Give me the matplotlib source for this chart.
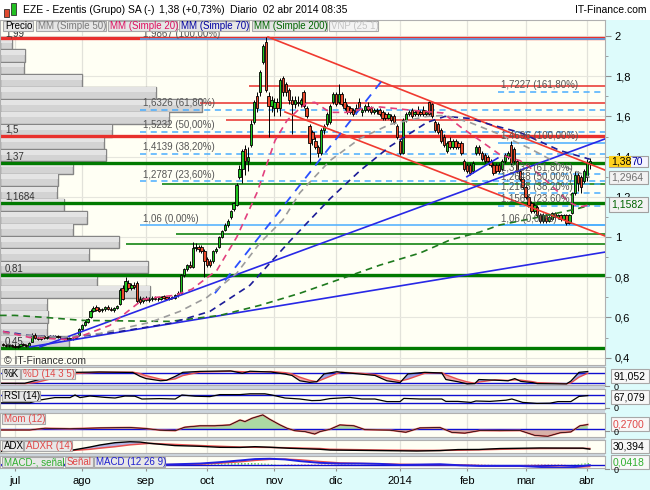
import numpy as np
import pandas as pd
import matplotlib
matplotlib.use("Agg")
import matplotlib.pyplot as plt
from matplotlib.patches import Rectangle
from matplotlib.ticker import FuncFormatter, MultipleLocator

plt.rcParams["font.family"] = ["Liberation Sans", "DejaVu Sans"]

W, H = 650, 490

# --- Data: daily candles (one per trading day, starting 2013-06-25) ---
first_day = "2013-06-25"
month_labels = ["jul", "ago", "sep", "oct", "nov", "dic", "2014", "feb", "mar", "abr"]

opens = [
    .470, .465, .460, .462, .458, .455, .460, .466, .462, .458,
    .480, .512, .500, .495, .505, .500, .504, .508, .503, .506,
    .502, .498, .494, .492, .496, .500, .510, .540, .560, .578,
    .600, .630, .650, .640, .636, .640, .650, .644, .636, .646,
    .665, .745, .730, .770, .745, .762, .770, .690, .680, .695,
    .688, .692, .698, .690, .694, .705, .700, .698, .700, .695,
    .710, .720, .810, .840, .860, .850, .945, .950, .950, .930,
    .890, .880, .880, .930, .950, 1.000, 1.035, 1.060, 1.100, 1.140,
    1.160, 1.300, 1.340, 1.440, 1.380, 1.460, 1.570, 1.700, 1.720, 1.870,
    1.970, 1.700, 1.650, 1.640, 1.670, 1.640, 1.790, 1.760, 1.730, 1.680,
    1.660, 1.670, 1.660, 1.720, 1.640, 1.550, 1.520, 1.480, 1.450, 1.420,
    1.530, 1.560, 1.570, 1.670, 1.710, 1.670, 1.710, 1.670, 1.650, 1.640,
    1.630, 1.640, 1.670, 1.620, 1.630, 1.650, 1.640, 1.620, 1.625, 1.630,
    1.620, 1.610, 1.590, 1.600, 1.600, 1.550, 1.480, 1.420, 1.580, 1.610,
    1.630, 1.610, 1.630, 1.620, 1.630, 1.610, 1.670, 1.660, 1.570, 1.560,
    1.530, 1.500, 1.430, 1.480, 1.450, 1.480, 1.470, 1.470, 1.380, 1.360,
    1.360, 1.330, 1.420, 1.450, 1.420, 1.410, 1.400, 1.380, 1.360, 1.360,
    1.360, 1.340, 1.380, 1.400, 1.460, 1.440, 1.380, 1.330, 1.290, 1.250,
    1.200, 1.170, 1.130, 1.150, 1.110, 1.080, 1.110, 1.080, 1.090, 1.120,
    1.100, 1.110, 1.090, 1.110, 1.070, 1.120, 1.220, 1.310, 1.300, 1.280,
    1.300, 1.370,
]
highs = [
    .475, .470, .468, .470, .466, .462, .470, .472, .468, .480,
    .520, .520, .508, .510, .512, .508, .512, .514, .510, .512,
    .508, .505, .502, .500, .504, .512, .545, .565, .585, .595,
    .640, .655, .660, .652, .648, .655, .660, .652, .650, .662,
    .745, .760, .800, .785, .770, .775, .780, .705, .700, .705,
    .700, .705, .708, .702, .706, .712, .708, .705, .708, .715,
    .730, .815, .845, .865, .880, .975, .970, .960, .958, .940,
    .900, .890, .935, .950, 1.005, 1.035, 1.070, 1.090, 1.135, 1.175,
    1.270, 1.360, 1.440, 1.460, 1.450, 1.580, 1.680, 1.720, 1.830, 1.960,
    1.995, 1.720, 1.700, 1.690, 1.690, 1.790, 1.800, 1.770, 1.740, 1.700,
    1.700, 1.700, 1.690, 1.730, 1.650, 1.560, 1.530, 1.500, 1.460, 1.540,
    1.560, 1.620, 1.660, 1.720, 1.720, 1.760, 1.720, 1.690, 1.660, 1.650,
    1.640, 1.660, 1.690, 1.640, 1.660, 1.670, 1.650, 1.640, 1.640, 1.640,
    1.630, 1.620, 1.620, 1.610, 1.610, 1.560, 1.490, 1.590, 1.620, 1.630,
    1.640, 1.630, 1.650, 1.630, 1.650, 1.630, 1.675, 1.665, 1.580, 1.570,
    1.540, 1.510, 1.480, 1.500, 1.490, 1.490, 1.480, 1.480, 1.390, 1.370,
    1.370, 1.380, 1.460, 1.460, 1.430, 1.420, 1.410, 1.390, 1.370, 1.370,
    1.370, 1.390, 1.420, 1.430, 1.480, 1.450, 1.390, 1.340, 1.300, 1.260,
    1.210, 1.180, 1.170, 1.160, 1.120, 1.120, 1.120, 1.110, 1.125, 1.125,
    1.115, 1.115, 1.115, 1.115, 1.115, 1.225, 1.330, 1.330, 1.310, 1.340,
    1.390, 1.395,
]
lows = [
    .460, .455, .452, .455, .450, .448, .455, .458, .455, .455,
    .478, .495, .490, .490, .495, .494, .498, .500, .496, .498,
    .494, .490, .488, .486, .490, .496, .505, .535, .555, .570,
    .595, .625, .632, .628, .625, .632, .638, .630, .628, .640,
    .660, .685, .725, .735, .735, .740, .670, .668, .670, .680,
    .675, .682, .685, .680, .686, .690, .688, .688, .690, .690,
    .700, .715, .800, .830, .845, .845, .930, .925, .920, .800,
    .850, .850, .870, .920, .945, .995, 1.030, 1.050, 1.090, 1.130,
    1.155, 1.290, 1.270, 1.310, 1.330, 1.450, 1.560, 1.620, 1.700, 1.860,
    1.720, 1.500, 1.620, 1.600, 1.620, 1.600, 1.700, 1.700, 1.660, 1.510,
    1.640, 1.650, 1.645, 1.640, 1.590, 1.370, 1.460, 1.440, 1.400, 1.410,
    1.510, 1.550, 1.560, 1.660, 1.650, 1.660, 1.650, 1.630, 1.610, 1.610,
    1.600, 1.610, 1.630, 1.600, 1.620, 1.620, 1.610, 1.610, 1.610, 1.600,
    1.580, 1.580, 1.585, 1.570, 1.560, 1.490, 1.410, 1.415, 1.570, 1.600,
    1.590, 1.600, 1.600, 1.600, 1.600, 1.600, 1.600, 1.590, 1.520, 1.510,
    1.470, 1.450, 1.420, 1.440, 1.440, 1.440, 1.440, 1.410, 1.330, 1.320,
    1.310, 1.320, 1.410, 1.410, 1.380, 1.370, 1.370, 1.350, 1.310, 1.320,
    1.320, 1.330, 1.370, 1.390, 1.360, 1.370, 1.320, 1.280, 1.240, 1.190,
    1.150, 1.120, 1.120, 1.100, 1.070, 1.070, 1.070, 1.075, 1.085, 1.090,
    1.090, 1.080, 1.085, 1.060, 1.065, 1.115, 1.210, 1.230, 1.220, 1.270,
    1.280, 1.340,
]
closes = [
    .465, .460, .462, .458, .455, .460, .466, .462, .458, .475,
    .512, .500, .495, .505, .500, .504, .508, .503, .506, .502,
    .498, .494, .492, .496, .500, .508, .540, .560, .578, .590,
    .630, .648, .636, .634, .642, .650, .644, .636, .646, .655,
    .738, .692, .780, .745, .762, .750, .682, .675, .695, .685,
    .692, .698, .690, .694, .700, .695, .692, .693, .695, .710,
    .720, .810, .840, .860, .852, .945, .950, .940, .930, .880,
    .860, .860, .930, .940, 1.000, 1.030, 1.060, 1.080, 1.130, 1.170,
    1.260, 1.340, 1.430, 1.380, 1.400, 1.560, 1.670, 1.640, 1.820, 1.950,
    1.730, 1.650, 1.680, 1.670, 1.640, 1.780, 1.720, 1.720, 1.680, 1.660,
    1.680, 1.665, 1.680, 1.650, 1.600, 1.470, 1.490, 1.450, 1.420, 1.530,
    1.550, 1.610, 1.650, 1.710, 1.660, 1.710, 1.660, 1.640, 1.620, 1.620,
    1.610, 1.620, 1.640, 1.630, 1.650, 1.630, 1.620, 1.630, 1.632, 1.610,
    1.590, 1.590, 1.610, 1.580, 1.570, 1.500, 1.420, 1.580, 1.610, 1.620,
    1.600, 1.620, 1.610, 1.610, 1.610, 1.620, 1.610, 1.600, 1.530, 1.520,
    1.480, 1.460, 1.470, 1.450, 1.480, 1.450, 1.450, 1.420, 1.340, 1.330,
    1.320, 1.370, 1.450, 1.420, 1.390, 1.380, 1.380, 1.360, 1.320, 1.330,
    1.330, 1.380, 1.410, 1.420, 1.370, 1.380, 1.330, 1.290, 1.250, 1.200,
    1.160, 1.130, 1.160, 1.110, 1.080, 1.110, 1.080, 1.100, 1.120, 1.100,
    1.110, 1.090, 1.110, 1.070, 1.110, 1.220, 1.310, 1.270, 1.250, 1.330,
    1.370, 1.380,
]

# volume-by-price profile (25 bins, top to bottom, relative volume)
vnp_volume = [12, 25, 24, 82, 156, 202, 169, 112, 104, 106, 73, 58, 57,
              64, 87, 73, 119, 89, 148, 97, 150, 47, 48, 47, 69]

# moving averages (bar index, value)
sma20_x = [0, 9.2, 21.9, 27.4, 36.6, 44.5, 48, 52.7, 58.9, 64.7, 73.3, 80.1, 87, 93.2, 97.3,
           101.7, 104.1, 106.8, 112, 117.8, 124, 129.1, 140.4, 150.7, 156.5, 163.4, 170.2,
           177.1, 183.9, 189, 194.2, 197.6, 201]
sma20_y = [0.53, 0.50, 0.49, 0.51, 0.56, 0.65, 0.69, 0.70, 0.71, 0.74, 0.835, 1.0, 1.22, 1.48, 1.58,
           1.64, 1.667, 1.67, 1.62, 1.62, 1.64, 1.647, 1.63, 1.617, 1.55, 1.48, 1.41,
           1.38, 1.31, 1.24, 1.17, 1.15, 1.16]
sma50_x = [0, 19.5, 33.2, 50.3, 60.6, 69.9, 80.1, 88, 95.9, 101.7, 112, 122.3, 132.5, 145.2,
           151.4, 159.9, 170.2, 180.5, 190.8, 201]
sma50_y = [0.52, 0.50, 0.52, 0.575, 0.63, 0.70, 0.82, 0.97, 1.085, 1.22, 1.38, 1.49, 1.56, 1.60,
           1.605, 1.57, 1.51, 1.44, 1.36, 1.2964]
sma70_x = [0, 9.2, 23, 40.1, 57.2, 70.9, 84.6, 98.3, 112, 122.3, 132.5, 145.2, 151.4, 159.9,
           166.8, 177.1, 190.8, 201]
sma70_y = [0.53, 0.51, 0.50, 0.53, 0.57, 0.63, 0.76, 0.98, 1.19, 1.33, 1.45, 1.57, 1.60, 1.59,
           1.56, 1.52, 1.43, 1.387]
sma200_x = [-1, 4.1, 14.4, 27.4, 57.2, 74.3, 88, 101.7, 115.4, 129.1, 142.8, 153.1, 163.4,
            170.2, 183.9, 196.6, 201]
sma200_y = [0.61, 0.61, 0.60, 0.585, 0.58, 0.61, 0.66, 0.72, 0.79, 0.86, 0.92, 0.985, 1.025,
            1.06, 1.10, 1.14, 1.1582]

# horizontal support / resistance levels
red_full = [1.99, 1.5025]
red_full_labels = ["1,99", "1,5"]
green_full = [1.37, 1.1684, 0.81, 0.45]
green_full_labels = ["1,37", "1,1684", "0,81", "0,45"]
red_part = [1.75, 1.667, 1.582]
red_part_from = [84.2, 67.5, 76.4]
green_part = [1.264, 1.015, 0.965]
green_part_from = [54.5, 59.2, 42.1]

# Fibonacci retracements
fib1_levels = [1.9867, 1.6326, 1.5232, 1.4139, 1.2787, 1.06]
fib1_pcts = ["100,00%", "61,80%", "50,00%", "38,20%", "23,60%", "0,00%"]
fib2_levels = [1.7227, 1.4696, 1.3132, 1.2648, 1.2165, 1.1567, 1.06]
fib2_pcts = ["161,80%", "100,00%", "61,80%", "50,00%", "38,20%", "23,60%", "0,00%"]

# trend lines: (x0, y0, x1, y1) in bar index / price
red_channel = [(90.8, 1.995, 206.2, 1.333), (96.6, 1.622, 206.2, 1.005)]
blue_lines = [(12.7, 0.453, 206.2, 1.488), (9.2, 0.453, 206.2, 0.925), (158.9, 1.30, 169.5, 1.393)]
blue_dashed = [(72.6, 0.72, 130.8, 1.796)]

# indicators (bar index, values)
stoch_x = [-1, 7.5, 11.6, 17.8, 24.7, 33, 44.5, 47, 49, 54, 56, 59, 61.6, 67.5, 78, 82, 84.6,
           91.8, 96.6, 99, 101.7, 105, 107.5, 110, 114.4, 116, 122.3, 127.4, 131.5, 136, 138.7,
           144.5, 150.3, 151.7, 155.8, 159, 161.6, 163, 168.5, 173, 175.3, 177.4, 181.5, 183,
           193, 194.5, 197.3, 200.3]
stoch_k = [15, 16, 36, 70, 86, 88, 85, 60, 46, 32, 35, 60, 86, 92, 95, 80, 93, 88, 75, 66, 32,
           22, 26, 76, 90, 86, 75, 66, 32, 20, 76, 86, 82, 40, 26, 12, 14, 40, 36, 32, 46, 28,
           20, 14, 12, 30, 86, 91.052]
stoch_d = [16, 14, 22, 50, 78, 87, 87, 78, 65, 42, 36, 44, 65, 88, 93, 90, 88, 91, 84, 76, 55,
           35, 26, 45, 78, 86, 80, 72, 50, 30, 42, 80, 84, 70, 42, 25, 16, 24, 38, 34, 38, 36,
           26, 20, 13, 18, 55, 80]
rsi_x = [-1, 9.2, 12.7, 17.8, 23, 24.7, 26.4, 29.8, 35, 38.4, 41.8, 45.2, 47.6, 53.8, 59, 61.3,
         65.8, 70.9, 74.3, 81.2, 84.6, 89.7, 92.1, 96.6, 101.7, 105.8, 108.6, 112, 118.8,
         122.9, 127.4, 131.5, 136, 137.3, 142.8, 150.3, 151.7, 155.8, 160.3, 162, 166.8,
         172.3, 174.3, 178, 182.9, 187.3, 190.1, 194.5, 197.3, 200.3]
rsi_v = [31, 31, 45, 57, 57, 70, 57, 65, 58, 55, 65, 64, 50, 52, 50, 70, 64, 62, 72, 72, 76,
         76, 70, 55, 50, 42, 43, 52, 58, 50, 50, 37, 37, 53, 50, 50, 38, 38, 33, 40, 38, 44,
         50, 33, 28, 29, 37, 37, 63, 67.079]
mom_x = [-1, 9.2, 14.4, 23, 33.2, 43.5, 48.6, 53.8, 59, 62.3, 67.5, 72.6, 77.7, 81.2, 82.9,
         85.3, 89, 91.4, 94.9, 97.3, 100, 103.4, 106.8, 108.6, 112, 115.4, 120.2, 124, 132.5,
         138, 142.8, 149.7, 153.8, 158.2, 163.4, 170.2, 177.1, 182.2, 186.6, 190.8, 194.5,
         197.6, 200.3]
mom_v = [-0.04, -0.04, 0.06, 0.03, 0.08, 0.10, 0.05, -0.05, -0.08, 0.12, 0.2, 0.2, 0.25, 0.53,
         0.44, 0.63, 0.82, 0.57, 0.25, 0.06, -0.08, -0.13, -0.27, -0.13, 0.0, 0.25, 0.2, -0.02,
         -0.05, -0.17, 0.08, 0.10, -0.18, -0.22, -0.07, -0.08, -0.07, -0.35, -0.40, -0.2,
         -0.15, 0.2, 0.27]
adx_x = [-1, 12.7, 24, 29.8, 33.2, 38.4, 43.5, 46.9, 50.3, 58.9, 67.5, 74.3, 81.2, 86.3, 91.4,
         98.3, 108.6, 112, 129.1, 141.8, 149.7, 155.8, 163, 170.2, 183.9, 198.6, 201]
adx_v = [24, 26, 28, 36, 41.5, 47.7, 50.4, 49.5, 46, 40, 38, 35.3, 35, 37, 35.5, 32.7, 30, 28,
         26.5, 25.4, 26.5, 29.2, 29.5, 32, 33.5, 33, 30.394]
adxr_v = [25, 25.5, 27, 30, 33, 37, 42, 44, 46, 43, 40, 38, 36, 35.5, 35, 34, 32, 30, 28, 27,
          27, 27.5, 28.5, 30, 32, 32.5, 32]
macd_x = [-1, 55.5, 67.5, 74.3, 81.2, 86.3, 91.4, 96.6, 101.7, 108.6, 115.4, 122.3, 129.1,
          136, 142.8, 149.7, 156.5, 163.4, 170.2, 177.1, 183.9, 190.8, 195.9, 201]
macd_v = [-0.01, 0.0, 0.03, 0.07, 0.12, 0.16, 0.17, 0.15, 0.10, 0.05, 0.03, 0.03, 0.02, -0.01,
          0.0, 0.01, -0.02, -0.04, -0.04, -0.04, -0.07, -0.09, -0.07, -0.02]
signal_v = [-0.01, 0.0, 0.01, 0.04, 0.08, 0.12, 0.15, 0.16, 0.14, 0.09, 0.05, 0.035, 0.025,
            0.01, 0.0, 0.0, -0.01, -0.03, -0.04, -0.04, -0.055, -0.075, -0.08, -0.06]
hist_v = [0.0, 0.0, 0.02, 0.03, 0.04, 0.04, 0.02, -0.01, -0.04, -0.04, -0.02, -0.005, -0.005,
          -0.02, 0.0, 0.01, -0.01, -0.01, 0.0, 0.0, -0.015, -0.015, 0.01, 0.0418]


def comma(v, nd):
    return f"{v:.{nd}f}".replace(".", ",")


# --- Figure layout in pixels ---
fig = plt.figure(figsize=(6.5, 4.9), dpi=100)
fig.patch.set_facecolor("white")


def fx(px):
    return px / W


def fy(py):
    return 1 - py / H


def fig_rect(x0, y0, x1, y1, face, edge="none", lw=0.8, z=1):
    r = Rectangle((fx(x0), fy(y1)), (x1 - x0) / W, (y1 - y0) / H, transform=fig.transFigure,
                  facecolor=face, edgecolor=edge, linewidth=lw, zorder=z)
    fig.add_artist(r)


def fig_label(x, y, s, color, size=7, ha="left", z=3):
    return fig.text(fx(x), fy(y), s, color=color, fontsize=size, ha=ha, va="center", zorder=z)


PLOT_R = 605
fig_rect(PLOT_R, 20, 650, 490, "#DDFBFB", z=-2)
fig_rect(0, 468, PLOT_R, 490, "#DDFBFB", z=-2)
fig_rect(0, 365, PLOT_R, 468, "#CDD6DD", z=-2)

dates = pd.bdate_range(first_day, periods=len(closes))
month_idx = [i for i in range(1, len(dates)) if dates[i].month != dates[i - 1].month]
XMIN, XMAX = -1.0, 206.2


def panel(top, bottom):
    ax = fig.add_axes([0, fy(bottom), fx(PLOT_R), (bottom - top) / H])
    ax.set_facecolor("#FFFFF4")
    ax.set_xlim(XMIN, XMAX)
    for s in ax.spines.values():
        s.set_color("#B0B0B0")
        s.set_linewidth(0.8)
    ax.tick_params(left=False, labelleft=False, bottom=False, labelbottom=False)
    for m in month_idx:
        ax.axvline(m, color="#E2E2DA", lw=0.9, zorder=0)
    return ax


# --- Price panel ---
ax = panel(20, 365)
ax.set_ylim(0.3632, 2.0796)
for g in np.arange(0.4, 2.01, 0.2):
    ax.axhline(g, color="#E6E6DE", lw=0.8, zorder=0)

# volume profile (bars start at the left edge of the panel)
edges = np.linspace(min(lows), max(highs), len(vnp_volume) + 1)
bin_h = edges[1] - edges[0]
vol_bottom_up = vnp_volume[::-1]
xspan = XMAX - XMIN
for k, v in enumerate(vol_bottom_up):
    w = v / max(vnp_volume) * (202 / 605) * xspan
    ax.add_patch(Rectangle((XMIN, edges[k]), w, bin_h, facecolor="#D3D3D3",
                           edgecolor="#858585", lw=1.0, zorder=1.5))
    ax.add_patch(Rectangle((XMIN, edges[k] + bin_h * 0.55), w, bin_h * 0.4,
                           facecolor="#E4E4E4", edgecolor="none", zorder=1.6))

# horizontal levels
for lv in red_full:
    ax.axhline(lv, color="#E8302C", lw=2.4, zorder=2)
for lv in green_full:
    ax.axhline(lv, color="#007A00", lw=2.4, zorder=2)
for lv, x0 in zip(red_part, red_part_from):
    ax.hlines(lv, x0, XMAX, color="#E8302C", lw=1.1, zorder=2)
for lv, x0 in zip(green_part, green_part_from):
    ax.hlines(lv, x0, XMAX, color="#007A00", lw=1.1, zorder=2)

lbl_tr = ax.get_yaxis_transform()
for lv, s in zip(red_full + green_full, red_full_labels + green_full_labels):
    ax.text(0.008, lv + (0.0 if lv > 1.95 else 0.006), s, transform=lbl_tr, fontsize=7,
            color="#333333", va="bottom", ha="left", zorder=6)

# fibonacci sets
for levels, pcts, x0 in ((fib1_levels, fib1_pcts, 46.9), (fib2_levels, fib2_pcts, 169.5)):
    for lv, pc in zip(levels, pcts):
        solid = pc in ("0,00%", "100,00%")
        ax.hlines(lv, x0, XMAX, color="#4AAEFF", lw=1.1,
                  linestyles="solid" if solid else (0, (4, 3)), zorder=2)
        ax.text(x0 + 1.0, lv + (0.0 if lv > 1.95 else 0.007),
                f"{comma(lv, 4).rstrip('0')} ({pc})", fontsize=7,
                color="#555555", va="bottom", ha="left", zorder=6)

# trend lines
for x0, y0, x1, y1 in red_channel:
    ax.plot([x0, x1], [y0, y1], color="#F03A30", lw=1.2, zorder=5)
for x0, y0, x1, y1 in blue_lines:
    ax.plot([x0, x1], [y0, y1], color="#2828E6", lw=1.2, zorder=5)
for x0, y0, x1, y1 in blue_dashed:
    ax.plot([x0, x1], [y0, y1], color="#2A50FF", lw=1.3, ls=(0, (5, 4)), zorder=5)

# candles
xi = np.arange(len(closes))
o, hh, ll, c = (np.array(a) for a in (opens, highs, lows, closes))
up = c >= o
ax.vlines(xi, ll, hh, color="black", lw=0.7, zorder=3)
body = np.maximum(np.abs(c - o), 0.004)
ax.bar(xi[up], body[up], bottom=o[up], width=0.8, color="#1FC41F", edgecolor="black",
       lw=0.6, zorder=4)
ax.bar(xi[~up], body[~up], bottom=c[~up], width=0.8, color="#EA4A2C", edgecolor="black",
       lw=0.6, zorder=4)

# moving averages
for mx, my, col in ((sma200_x, sma200_y, "#1E7A1E"), (sma70_x, sma70_y, "#1C1C98"),
                    (sma50_x, sma50_y, "#9C9C9C"), (sma20_x, sma20_y, "#E2407E")):
    ax.plot(mx, my, color=col, lw=1.2, ls=(0, (4, 3)), zorder=5)

ax.yaxis.tick_right()
ax.set_yticks(np.arange(0.4, 2.01, 0.2))
ax.yaxis.set_minor_locator(MultipleLocator(0.1))
ax.yaxis.set_major_formatter(FuncFormatter(lambda v, p: f"{v:g}".replace(".", ",")))
ax.tick_params(axis="y", which="major", right=True, labelright=True, length=4,
               color="#909090", labelsize=8, pad=3)
ax.tick_params(axis="y", which="minor", right=True, length=2, color="#909090")
ax.text(0.006, 0.026, "© IT-Finance.com", transform=ax.transAxes, fontsize=7.5,
        color="#333333", va="top", ha="left", clip_on=True, zorder=6)

# --- Indicator panels ---
ax_st = panel(367, 385)
ax_st.set_ylim(5, 120)
sk, sd = np.array(stoch_k), np.array(stoch_d)
ax_st.fill_between(stoch_x, sk, sd, where=sk >= sd, interpolate=True, color="#9EA4E6", lw=0)
ax_st.fill_between(stoch_x, sk, sd, where=sk < sd, interpolate=True, color="#F2AAAA", lw=0)
ax_st.axhline(80, color="#1010D0", lw=1.0)
ax_st.axhline(20, color="#1010D0", lw=1.0)
ax_st.plot(stoch_x, sd, color="#E85050", lw=1.0)
ax_st.plot(stoch_x, sk, color="black", lw=0.9)

ax_rsi = panel(389, 409)
ax_rsi.set_ylim(0, 100)
rv = np.array(rsi_v)
ax_rsi.fill_between(rsi_x, 70, rv, where=rv > 70, interpolate=True, color="#E6B4B4", lw=0)
ax_rsi.fill_between(rsi_x, 30, rv, where=rv < 30, interpolate=True, color="#B4BCEA", lw=0)
ax_rsi.axhline(70, color="#1010D0", lw=1.0)
ax_rsi.axhline(30, color="#1010D0", lw=1.0)
ax_rsi.plot(rsi_x, rv, color="black", lw=0.9)

ax_mom = panel(413, 437)
ax_mom.set_ylim(-0.44, 0.93)
mv = np.array(mom_v)
ax_mom.fill_between(mom_x, 0, mv, where=mv >= 0, interpolate=True, color="#ABD9A3", lw=0)
ax_mom.fill_between(mom_x, 0, mv, where=mv < 0, interpolate=True, color="#D9B2A9", lw=0)
ax_mom.axhline(0, color="#1010D0", lw=1.0)
ax_mom.plot(mom_x, mv, color="#E86060", lw=1.3)
ax_mom.plot(mom_x, mv, color="black", lw=0.5)

ax_adx = panel(440, 453)
ax_adx.set_ylim(20, 55)
av, arv = np.array(adx_v), np.array(adxr_v)
ax_adx.fill_between(adx_x, av, arv, where=av >= arv, interpolate=True, color="#B4B4E4", lw=0)
ax_adx.plot(adx_x, arv, color="#E85050", lw=1.1)
ax_adx.plot(adx_x, av, color="black", lw=1.0)

ax_macd = panel(456, 468)
ax_macd.set_ylim(-0.1, 0.25)
hv = np.array(hist_v)
ax_macd.fill_between(macd_x, 0, hv, where=hv >= 0, interpolate=True, facecolor="none",
                     edgecolor="#30C030", hatch="|||||", lw=0)
ax_macd.fill_between(macd_x, 0, hv, where=hv < 0, interpolate=True, facecolor="none",
                     edgecolor="#E04040", hatch="|||||", lw=0)
ax_macd.axhline(0, color="#1010D0", lw=1.0)
ax_macd.plot(macd_x, signal_v, color="#E85050", lw=1.0)
ax_macd.plot(macd_x, macd_v, color="#2020E0", lw=1.4)
ax_macd.set_xticks(month_idx)
ax_macd.set_xticklabels(month_labels[:len(month_idx)])
ax_macd.tick_params(axis="x", bottom=True, labelbottom=True, length=2, color="#909090",
                    labelsize=8, pad=4)

# --- Header ---
fig_rect(4, 9, 9, 17, "#E04A30", edge="#303030", lw=0.6)
fig_rect(11, 3, 16, 15, "#22C022", edge="#303030", lw=0.6)
chg = (closes[-1] / closes[-2] - 1) * 100
fig_label(23, 10, "EZE - Ezentis (Grupo) SA (-)", "black", size=7.5)
fig_label(159, 10, f"{comma(closes[-1], 2)} (+{comma(chg, 2)}%)", "black", size=7.5)
fig_label(230, 10, "Diario  02 abr 2014 08:35", "black", size=7.5)
fig_label(647, 10, "IT-Finance.com", "black", size=7.5, ha="right")

legend_items = [(3, 33, "Precio", "black"), (36, 106, "MM (Simple 50)", "#7A7A7A"),
                (108, 177, "MM (Simple 20)", "#DD1060"), (179, 249, "MM (Simple 70)", "#0000A0"),
                (252, 327, "MM (Simple 200)", "#006400"), (329, 378, "VNP (25 1)", "#C4C4C4")]
for x0, x1, s, col in legend_items:
    face = "#F4F4F4" if s.startswith("VNP") else "#E6E6E6"
    fig_rect(x0, 21, x1, 31, face, edge="#A8A8A8", z=2)
    fig_label(x0 + 2, 26, s, col, size=7)

# indicator name boxes
ind_boxes = [(2, 20, 369, 379, "%K", "black"), (21, 75, 369, 379, "%D (14 3 5)", "#E04848"),
             (2, 40, 391, 401, "RSI (14)", "black"), (2, 45, 414, 424, "Mom (12)", "#E04848"),
             (2, 23, 441, 451, "ADX", "black"), (24, 72, 441, 451, "ADXR (14)", "#E04848"),
             (2, 63, 457, 467, "MACD-, señal", "#30B030"), (65, 93, 457, 467, "Señal", "#E04848"),
             (94, 165, 457, 467, "MACD (12 26 9)", "#2020D0")]
for x0, x1, y0, y1, s, col in ind_boxes:
    fig_rect(x0, y0, x1, y1, "#E8E8E8", edge="#A8A8A8", z=2)
    fig_label(x0 + 2, (y0 + y1) / 2, s, col, size=7)

# right-hand value boxes: last price over the SMA70 value, then SMA50 and SMA200
sma70_txt = comma(sma70_y[-1], 4)
price_txt = comma(closes[-1], 2)
fig_rect(609, 156, 648, 167, "#F4F4FF", edge="#A0A0A0", z=2)
fig_rect(609, 156, 631, 167, "#FFD21E", edge="none", z=2.1)
fig_label(611, 161.7, price_txt, "black", size=7.5)
fig_label(631, 161.7, sma70_txt[len(price_txt):], "#0000A0", size=7.5)
fig_rect(609, 171, 648, 184, "#F2F2F2", edge="#A0A0A0", z=2)
fig_label(611, 177.5, comma(sma50_y[-1], 4), "#707070", size=7.5)
fig_rect(609, 197, 648, 212, "#F2F2F2", edge="#A0A0A0", z=2)
fig_label(611, 204.5, comma(sma200_y[-1], 4), "#006400", size=7.5)

ind_values = [(376, comma(stoch_k[-1], 3), "black"), (397, comma(rsi_v[-1], 3), "black"),
              (424, comma(mom_v[-1], 4), "#E04848"), (446, comma(adx_v[-1], 3), "black"),
              (462, comma(hist_v[-1], 4), "#30B030")]
for yc, s, col in ind_values:
    fig_rect(611, yc - 7, 649, yc + 7, "#F8F8F8", edge="#A8A8A8", z=2)
    fig_label(613, yc, s, col, size=7.5)

# zero ticks of the indicator scales
for yc in (387, 408.5, 432, 470):
    fig.add_artist(plt.Line2D([fx(605), fx(609)], [fy(yc - 1), fy(yc - 1)],
                              transform=fig.transFigure, color="#909090", lw=0.8))
    fig_label(614, yc, "0", "black", size=6.5)

fig.savefig("out.png", dpi=100)
